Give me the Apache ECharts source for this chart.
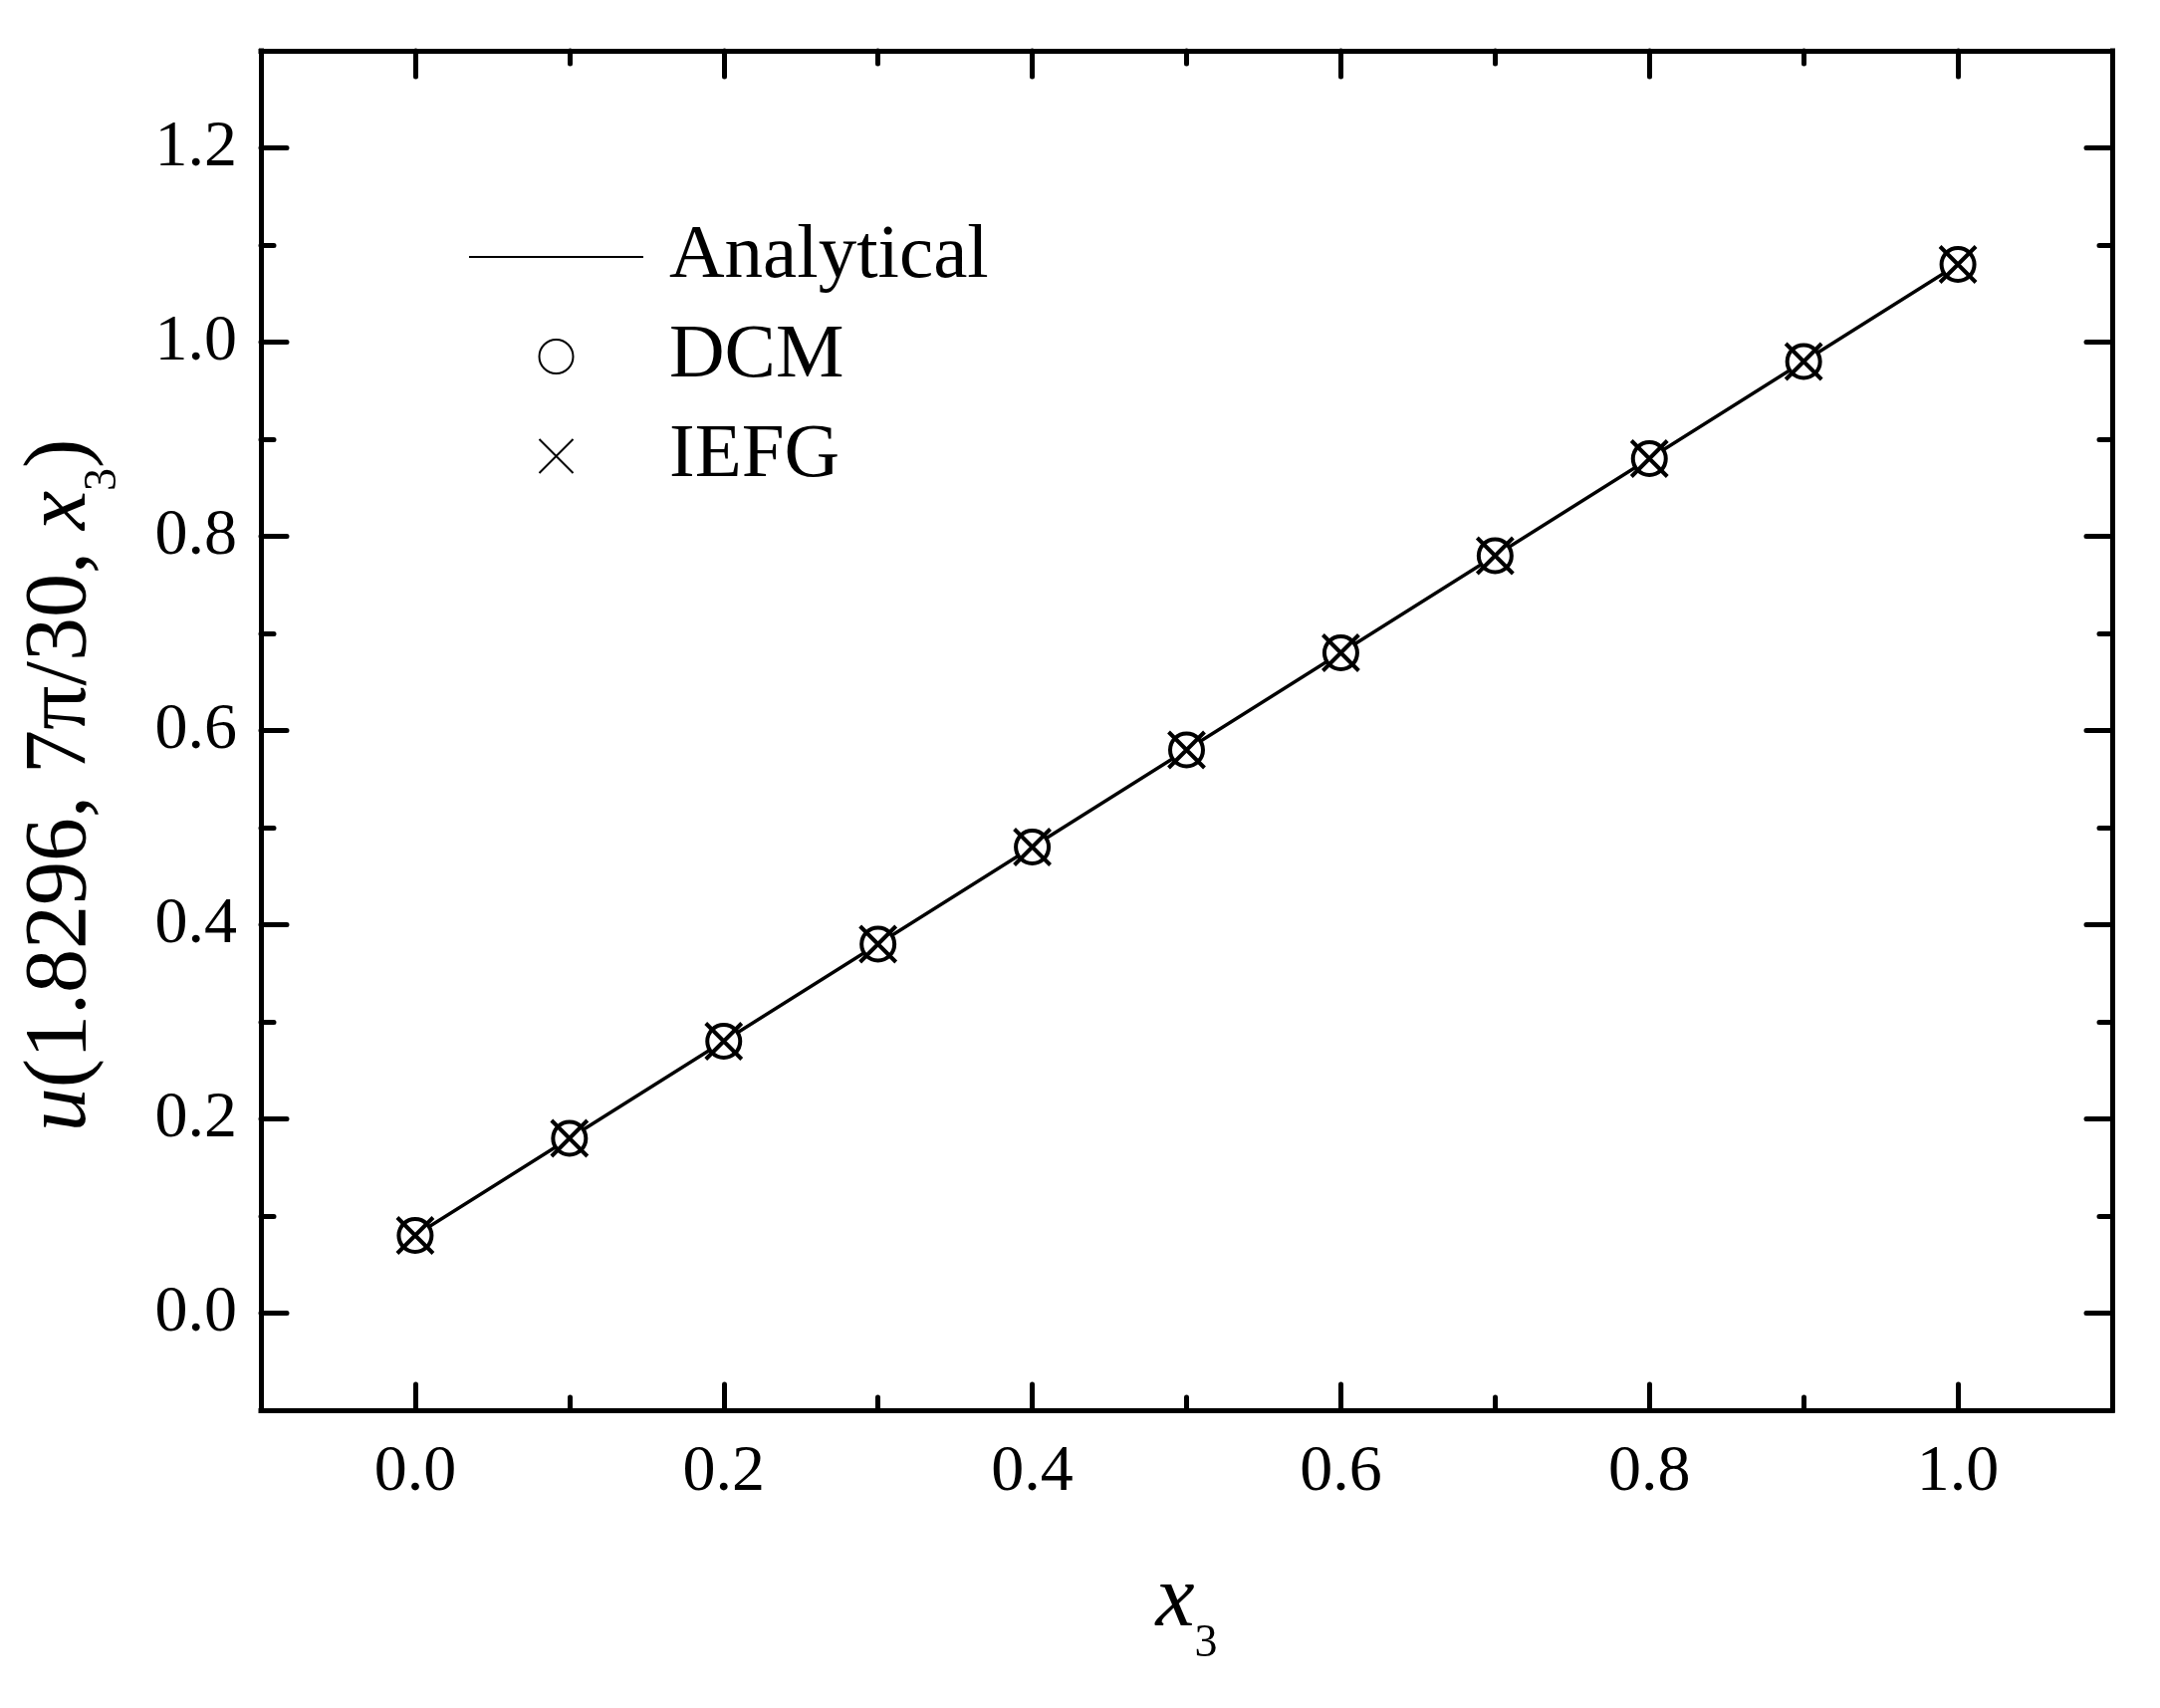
<!DOCTYPE html>
<html><head><meta charset="utf-8">
<script src="https://cdn.jsdelivr.net/npm/echarts@6/dist/echarts.min.js"></script>
<style>html,body{margin:0;padding:0;background:#fff}#c{width:2169px;height:1715px}</style>
</head><body><div id="c"></div>
<script>
const x3 = [0.0, 0.1, 0.2, 0.3, 0.4, 0.5, 0.6, 0.7, 0.8, 0.9, 1.0];
const analytical = [0.08, 0.18, 0.28, 0.38, 0.48, 0.58, 0.68, 0.78, 0.88, 0.98, 1.08];
const dcm = [0.08, 0.18, 0.28, 0.38, 0.48, 0.58, 0.68, 0.78, 0.88, 0.98, 1.08];
const iefg = [0.08, 0.18, 0.28, 0.38, 0.48, 0.58, 0.68, 0.78, 0.88, 0.98, 1.08];
const xMajorTicks = [0.0, 0.2, 0.4, 0.6, 0.8, 1.0];
const xMinorTicks = [0.1, 0.3, 0.5, 0.7, 0.9];
const yMajorTicks = [0.0, 0.2, 0.4, 0.6, 0.8, 1.0, 1.2];
const yMinorTicks = [0.1, 0.3, 0.5, 0.7, 0.9, 1.1];

const FONT = "'Liberation Serif', 'Times New Roman', serif";
const pair = (xs, ys) => xs.map((x, i) => [x, ys[i]]);

function mkAxis(kind, position, ticks, len, showLabel, showLine) {
  return {
    type: 'value', position: position,
    min: -0.1,
    max: kind === 'x' ? 1.1 : 1.3,
    splitLine: { show: false },
    axisLine: { show: showLine, onZero: false, lineStyle: { color: '#000', width: 5, cap: 'square' } },
    axisTick: { show: true, inside: true, length: len, customValues: ticks,
      lineStyle: { color: '#000', width: 5, cap: 'round' } },
    axisLabel: { show: showLabel, customValues: ticks, formatter: v => v.toFixed(1),
      fontFamily: FONT, fontSize: 66, color: '#000', margin: kind === 'x' ? 30 : 24 }
  };
}

const xAxes = [
  mkAxis('x', 'bottom', xMajorTicks, 26, true, true),
  mkAxis('x', 'bottom', xMinorTicks, 13, false, false),
  mkAxis('x', 'top', xMajorTicks, 26, false, true),
  mkAxis('x', 'top', xMinorTicks, 13, false, false)
];
const yAxes = [
  mkAxis('y', 'left', yMajorTicks, 26, true, true),
  mkAxis('y', 'left', yMinorTicks, 13, false, false),
  mkAxis('y', 'right', yMajorTicks, 26, false, true),
  mkAxis('y', 'right', yMinorTicks, 13, false, false)
];

const nameRich = {
  n: { fontFamily: FONT, fontSize: 88, color: '#000', lineHeight: 130 },
  i: { fontFamily: FONT, fontSize: 88, fontStyle: 'italic', color: '#000', lineHeight: 130 },
  s: { fontFamily: FONT, fontSize: 46, color: '#000', verticalAlign: 'bottom', lineHeight: 46 }
};
xAxes[0].name = '{i|x}{s|3}';
xAxes[0].nameLocation = 'middle';
xAxes[0].nameGap = 128;
xAxes[0].nameTextStyle = { rich: nameRich };
yAxes[0].name = '{i|u}{n|(1.8296, 7π/30, }{i|x}{s|3}{n|)}';
yAxes[0].nameLocation = 'middle';
yAxes[0].nameGap = 135;
yAxes[0].nameTextStyle = { rich: nameRich, padding: [0, 110, 0, 0] };

const chart = echarts.init(document.getElementById('c'), null, { renderer: 'canvas' });
chart.setOption({
  backgroundColor: '#fff',
  animation: false,
  grid: { left: 262, right: 48, top: 51, bottom: 299, containLabel: false },
  xAxis: xAxes,
  yAxis: yAxes,
  legend: {
    orient: 'vertical', left: 465, top: 213,
    itemWidth: 175, itemHeight: 34, itemGap: 20,
    textStyle: { fontFamily: FONT, fontSize: 77, color: '#000', lineHeight: 80, padding: [0, 0, 0, 21] },
    data: [
      { name: 'Analytical', itemStyle: { opacity: 0, color: 'rgba(0,0,0,0)', borderColor: 'rgba(0,0,0,0)' } },
      'DCM', 'IEFG'
    ]
  },
  series: [
    { name: 'Analytical', type: 'line', data: pair(x3, analytical), symbol: 'none', showSymbol: false,
      lineStyle: { color: '#000', width: 3.3 }, itemStyle: { color: '#000' }, z: 2 },
    { name: 'DCM', type: 'scatter', data: pair(x3, dcm), symbol: 'circle', symbolSize: 33,
      itemStyle: { color: '#fff', borderColor: '#000', borderWidth: 4, opacity: 1 }, z: 3 },
    { name: 'IEFG', type: 'scatter', data: pair(x3, iefg), symbol: 'path://M0,0L10,10M10,0L0,10', symbolSize: 36,
      symbolKeepAspect: true,
      itemStyle: { color: 'rgba(0,0,0,0)', borderColor: '#000', borderWidth: 4, opacity: 1 }, z: 4 }
  ]
});
</script></body></html>
